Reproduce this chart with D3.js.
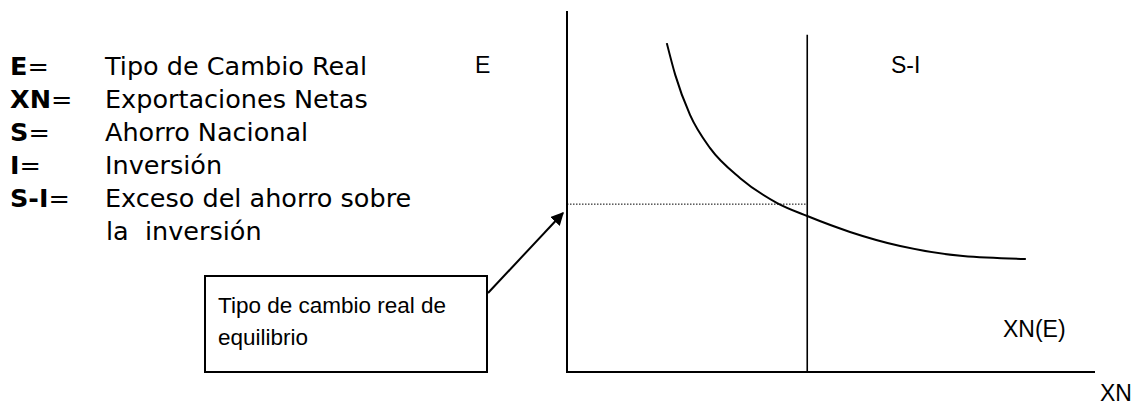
<!DOCTYPE html>
<html>
<head>
<meta charset="utf-8">
<script src="https://cdn.jsdelivr.net/npm/d3@7"></script>
<style>
  html, body { margin: 0; padding: 0; background: #fff; }
  svg { display: block; }
</style>
</head>
<body>
<div id="chart"></div>
<script>
// legend rows: bold symbol + description
const legendKeys = ["E", "XN", "S", "I", "S-I"];
const legendTexts = ["Tipo de Cambio Real", "Exportaciones Netas", "Ahorro Nacional", "Inversión", "Exceso del ahorro sobre"];
const legendExtra = "la  inversión";

// XN(E) curve, in chart units (x: XN, y: E)
const curveXN = [1.89, 2.05, 2.33, 2.71, 3.28, 3.98, 4.55, 5.36, 6.31, 7.50, 8.69];
const curveE  = [9.11, 8.23, 7.12, 6.20, 5.37, 4.68, 4.32, 3.88, 3.49, 3.21, 3.13];

// S-I vertical line and equilibrium level
const siXN = 4.55;
const siTop = 9.34;
const eqE = 4.65;

const boxLines = ["Tipo de cambio real de", "equilibrio"];

const width = 1134, height = 408;
const svg = d3.select("#chart").append("svg")
  .attr("width", width)
  .attr("height", height);

const x = d3.scaleLinear().domain([0, 10]).range([567, 1095]);
const y = d3.scaleLinear().domain([0, 10]).range([372, 11]);

// axes (plain lines, no ticks)
svg.append("line")
  .attr("x1", x(0)).attr("x2", x(0))
  .attr("y1", y(0) + 1).attr("y2", y(10))
  .attr("stroke", "#000").attr("stroke-width", 2);
svg.append("line")
  .attr("x1", x(0) - 1).attr("x2", x(10))
  .attr("y1", y(0)).attr("y2", y(0))
  .attr("stroke", "#000").attr("stroke-width", 2);

// S-I line
svg.append("line")
  .attr("x1", x(siXN)).attr("x2", x(siXN))
  .attr("y1", y(0)).attr("y2", y(siTop))
  .attr("stroke", "#000").attr("stroke-width", 1.6);

// dotted equilibrium line
svg.append("line")
  .attr("x1", x(0)).attr("x2", x(siXN))
  .attr("y1", y(eqE)).attr("y2", y(eqE))
  .attr("stroke", "#000").attr("stroke-width", 1)
  .attr("stroke-dasharray", "1.5,1.5");

// XN(E) curve
const pts = curveXN.map((v, i) => [v, curveE[i]]);
svg.append("path")
  .datum(pts)
  .attr("fill", "none")
  .attr("stroke", "#000")
  .attr("stroke-width", 2)
  .attr("d", d3.line().x(d => x(d[0])).y(d => y(d[1])).curve(d3.curveMonotoneX));

// chart labels
const lab = svg.append("g")
  .attr("font-family", "Liberation Sans, Arial, sans-serif")
  .attr("font-size", 23)
  .attr("fill", "#000");
lab.append("text").attr("x", 475).attr("y", 73).text("E");
lab.append("text").attr("x", 891).attr("y", 73).text("S-I");
lab.append("text").attr("x", 1003).attr("y", 337).text("XN(E)");
lab.append("text").attr("x", 1100).attr("y", 401).text("XN");

// legend
const leg = svg.append("g")
  .attr("font-family", "DejaVu Sans, Verdana, sans-serif")
  .attr("font-size", 25.5)
  .attr("fill", "#000");
const rowY = d3.scalePoint().domain(d3.range(6)).range([75, 240]);
legendKeys.forEach((k, i) => {
  const t = leg.append("text").attr("x", 10).attr("y", rowY(i));
  t.append("tspan").attr("font-weight", "bold").text(k);
  t.append("tspan").text("=");
  leg.append("text").attr("x", 105).attr("y", rowY(i)).text(legendTexts[i]);
});
leg.append("text").attr("x", 106).attr("y", rowY(5)).style("white-space", "pre").text(legendExtra);

// callout box with arrow
const box = { x0: 205, x1: 487, y0: 276, y1: 372 };
svg.append("rect")
  .attr("x", box.x0).attr("y", box.y0)
  .attr("width", box.x1 - box.x0).attr("height", box.y1 - box.y0)
  .attr("fill", "#fff").attr("stroke", "#000").attr("stroke-width", 2);
const bt = svg.append("g")
  .attr("font-family", "Liberation Sans, Arial, sans-serif")
  .attr("font-size", 22.5)
  .attr("fill", "#000");
boxLines.forEach((s, i) => {
  bt.append("text").attr("x", box.x0 + 13).attr("y", 313 + i * 32).text(s);
});

svg.append("defs").append("marker")
  .attr("id", "arrow")
  .attr("viewBox", "0 0 10 10")
  .attr("refX", 9).attr("refY", 5)
  .attr("markerWidth", 6.5).attr("markerHeight", 6.5)
  .attr("orient", "auto")
  .append("path").attr("d", "M0,0 L10,5 L0,10 z").attr("fill", "#000");
svg.append("line")
  .attr("x1", box.x1 + 1).attr("y1", 293)
  .attr("x2", 563).attr("y2", 213)
  .attr("stroke", "#000").attr("stroke-width", 2)
  .attr("marker-end", "url(#arrow)");
</script>
</body>
</html>
